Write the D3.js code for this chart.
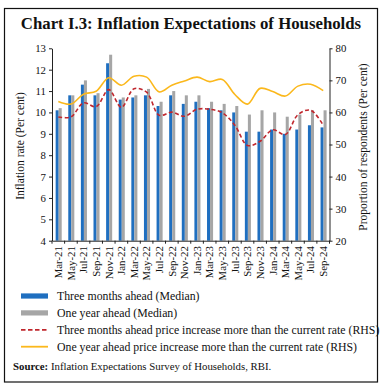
<!DOCTYPE html>
<html>
<head>
<meta charset="utf-8">
<script src="https://cdn.jsdelivr.net/npm/d3@7"></script>
<style>
  body { margin: 0; background: white; }
  text { font-family: "Liberation Serif", serif; fill: #111; }
  .axis path, .axis line { stroke: #222; }
</style>
</head>
<body>
<div id="canvas"></div>
<script>
// data
const months = ["Mar-21", "May-21", "Jul-21", "Sep-21", "Nov-21", "Jan-22", "Mar-22", "May-22", "Jul-22", "Sep-22", "Nov-22",
    "Jan-23", "Mar-23", "May-23", "Jul-23", "Sep-23", "Nov-23", "Jan-24", "Mar-24", "May-24", "Jul-24", "Sep-24"];
const threeMonthMedian = [10.1, 10.8, 11.3, 10.8, 12.3, 10.6, 10.7, 10.8, 10.3, 10.8, 10.4, 10.5, 10.2, 10.1, 10.0, 9.1, 9.1, 9.2, 9.0, 9.2, 9.4, 9.3];
const oneYearMedian = [10.2, 10.8, 11.5, 10.9, 12.7, 10.7, 10.8, 11.1, 10.5, 11.0, 10.8, 10.8, 10.5, 10.4, 10.3, 9.9, 10.1, 10.0, 9.8, 9.9, 10.1, 10.1];
const threeMonthMore = [58.6, 58.6, 63.0, 61.8, 67.1, 61.6, 67.4, 66.3, 59.1, 60.1, 58.8, 61.0, 61.0, 59.9, 56.0, 49.7, 51.0, 54.6, 53.1, 59.3, 60.7, 56.0];
const oneYearMore = [63.4, 62.6, 65.7, 66.6, 70.8, 68.5, 71.3, 71.0, 66.4, 68.5, 69.8, 71.0, 69.6, 70.3, 65.6, 62.6, 67.5, 66.5, 65.1, 68.2, 68.8, 66.8];
const leftTicks = [4, 5, 6, 7, 8, 9, 10, 11, 12, 13];
const rightTicks = [20, 30, 40, 50, 60, 70, 80];

const colours = {three: "#1f6fc0", one: "#a6a6a6", red: "#c0272d", orange: "#fbb81c"};

// canvas
const W = 382, H = 389;
const plot = {left: 52, right: 329.5, top: 48.3, bottom: 240.7};

const svg = d3.select("#canvas")
    .append("svg")
    .attr("width", W)
    .attr("height", H);

// frame
svg.append("rect")
    .attr("x", 4.5).attr("y", 8.5)
    .attr("width", 373).attr("height", 373.5)
    .attr("fill", "none")
    .attr("stroke", "#111")
    .attr("stroke-width", 1.2);

// title
svg.append("text")
    .attr("x", 191)
    .attr("y", 28.5)
    .attr("text-anchor", "middle")
    .attr("font-size", 16.8)
    .attr("font-weight", "bold")
    .text("Chart I.3: Inflation Expectations of Households");

// scales
const x = d3.scaleBand()
    .domain(months)
    .range([plot.left, plot.right]);

const xSub = d3.scaleBand()
    .domain(["three", "one"])
    .range([x.bandwidth() * 0.29, x.bandwidth() * 0.77]);

const yL = d3.scaleLinear()
    .domain([4, 13])
    .range([plot.bottom, plot.top]);

const yR = d3.scaleLinear()
    .domain([20, 80])
    .range([plot.bottom, plot.top]);

// bars
const barData = months.map((m, i) => ({month: m, three: threeMonthMedian[i], one: oneYearMedian[i]}));
const barGroup = svg.append("g")
    .selectAll("g")
    .data(barData)
    .join("g")
    .attr("transform", d => "translate(" + x(d.month) + ",0)");

barGroup.selectAll("rect")
    .data(d => ["three", "one"].map(k => ({key: k, value: d[k]})))
    .join("rect")
    .attr("x", d => xSub(d.key))
    .attr("width", xSub.bandwidth())
    .attr("y", d => yL(d.value))
    .attr("height", d => yL(4) - yL(d.value))
    .attr("fill", d => colours[d.key]);

// lines (RHS)
const line = d3.line()
    .curve(d3.curveCatmullRom)
    .x((d, i) => x(months[i]) + x.bandwidth() / 2)
    .y(d => yR(d));

svg.append("path")
    .datum(oneYearMore)
    .attr("fill", "none")
    .attr("stroke", colours.orange)
    .attr("stroke-width", 1.6)
    .attr("d", line);

svg.append("path")
    .datum(threeMonthMore)
    .attr("fill", "none")
    .attr("stroke", colours.red)
    .attr("stroke-width", 1.6)
    .attr("stroke-dasharray", "4,2.5")
    .attr("d", line);

// axes
const leftAxis = svg.append("g")
    .attr("class", "axis")
    .attr("transform", "translate(" + plot.left + ",0)")
    .call(d3.axisLeft(yL).tickValues(leftTicks).tickSizeInner(3).tickSizeOuter(0).tickPadding(3));

const rightAxis = svg.append("g")
    .attr("class", "axis")
    .attr("transform", "translate(" + plot.right + ",0)")
    .call(d3.axisRight(yR).tickValues(rightTicks).tickSizeInner(3).tickSizeOuter(0).tickPadding(3));

const bottomAxis = svg.append("g")
    .attr("class", "axis")
    .attr("transform", "translate(0," + plot.bottom + ")")
    .call(d3.axisBottom(x).tickSize(0).tickSizeOuter(0).tickPadding(0));

svg.selectAll(".axis text")
    .attr("font-family", "Liberation Serif")
    .attr("font-size", 10.8)
    .attr("fill", "#111");

bottomAxis.selectAll("text")
    .attr("x", 0)
    .attr("y", 0)
    .attr("dy", "0.35em")
    .attr("text-anchor", "end")
    .attr("transform", "translate(0,5.5) rotate(-90)");

// band boundary ticks on x-axis
bottomAxis.selectAll(".band-tick")
    .data(d3.range(months.length + 1))
    .join("line")
    .attr("class", "band-tick")
    .attr("x1", i => plot.left + i * x.bandwidth())
    .attr("x2", i => plot.left + i * x.bandwidth())
    .attr("y1", 0)
    .attr("y2", 3)
    .attr("stroke", "#222");

// axis titles
svg.append("text")
    .attr("transform", "translate(19.5,146) rotate(-90)")
    .attr("text-anchor", "middle")
    .attr("dy", "0.35em")
    .attr("font-size", 11.5)
    .text("Inflation rate (Per cent)");

svg.append("text")
    .attr("transform", "translate(363,147) rotate(-90)")
    .attr("text-anchor", "middle")
    .attr("dy", "0.35em")
    .attr("font-size", 11.5)
    .text("Proportion of respondents (Per cent)");

// legend
const legendItems = [
    {label: "Three months ahead (Median)", type: "bar", colour: colours.three},
    {label: "One year ahead (Median)", type: "bar", colour: colours.one},
    {label: "Three months ahead price increase more than the current rate (RHS)", type: "dash", colour: colours.red},
    {label: "One year ahead price increase more than the current rate (RHS)", type: "line", colour: colours.orange}
];

const legend = svg.append("g")
    .selectAll("g")
    .data(legendItems)
    .join("g")
    .attr("transform", (d, i) => "translate(21," + (296 + i * 16.9) + ")");

legend.filter(d => d.type == "bar")
    .append("rect")
    .attr("x", 0).attr("y", -2.6)
    .attr("width", 27).attr("height", 5.2)
    .attr("fill", d => d.colour);

legend.filter(d => d.type != "bar")
    .append("line")
    .attr("x1", 0).attr("x2", 27)
    .attr("y1", 0).attr("y2", 0)
    .attr("stroke", d => d.colour)
    .attr("stroke-width", 1.8)
    .attr("stroke-dasharray", d => d.type == "dash" ? "4.5,2.5" : null);

legend.append("text")
    .attr("x", 36)
    .attr("dy", "0.35em")
    .attr("font-size", 11.8)
    .text(d => d.label);

// source
const source = svg.append("text")
    .attr("x", 13)
    .attr("y", 369.5)
    .attr("font-size", 10.8);
source.append("tspan").attr("font-weight", "bold").text("Source:");
source.append("tspan").text(" Inflation Expectations Survey of Households, RBI.");
</script>
</body>
</html>
